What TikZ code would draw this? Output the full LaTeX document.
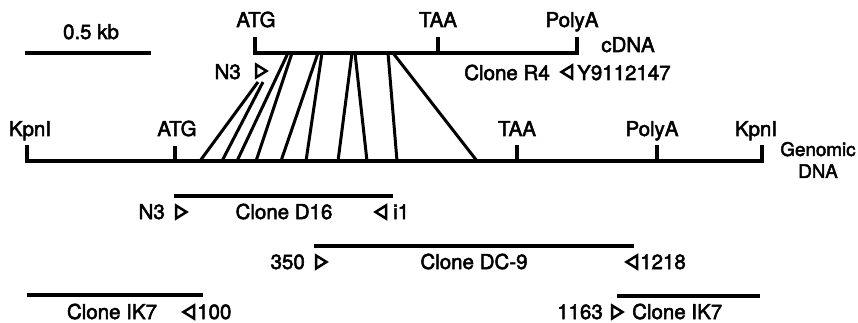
\documentclass[tikz,border=0pt]{standalone}
\usepackage{fontspec}
\setmainfont{TeX Gyre Heros}[BoldFont={TeX Gyre Heros}, BoldFeatures={FakeBold=2.5}]
\begin{document}
\begin{tikzpicture}[x=1pt,y=-1pt,
  every node/.style={inner sep=0pt, font=\fontsize{20.5}{24}\selectfont\bfseries},
  dna/.style={line width=3.8pt, line cap=butt},
  link/.style={line width=3pt, line cap=butt},
  lbl/.style={anchor=base},
  lblL/.style={anchor=base west},
  lblR/.style={anchor=base east},
  smalllbl/.style={anchor=base, font=\fontsize{18.8}{22}\selectfont\bfseries},
  rtri/.pic={\draw[line width=2.5pt, line join=miter] (-5,-6.5) -- (5.5,0) -- (-5,6.5) -- cycle;},
  ltri/.pic={\draw[line width=2.5pt, line join=miter] (5,-6.5) -- (-5.5,0) -- (5,6.5) -- cycle;}
]
\useasboundingbox (0,0) rectangle (858,323);

% scale bar
\coordinate (sb1) at (25,53); \coordinate (sb2) at (151,53);
\draw[dna] (sb1) -- (sb2);
\node[lbl] (sbl) at (91,39) {0.5 kb};

% cDNA
\coordinate (c0) at (255,53); \coordinate (c1) at (577,53);
\coordinate (cA) at (255,37); \coordinate (cT0) at (438,53); \coordinate (cT) at (438,37);
\coordinate (cP) at (577,37);
\draw[dna, line join=miter] (cA) -- (c0) -- (c1) -- (cP);
\draw[dna] (cT0) -- (cT);
\node[lbl] (catg) at (256,27) {ATG};
\node[lbl] (ctaa) at (438,27) {TAA};
\node[lbl] (cpoly) at (572,27) {PolyA};
\node[lbl] (cdna) at (628,52) {cDNA};
\node[lbl] (r4) at (507,80) {Clone R4};
\pic (r4t) at (567,72) {ltri};
\node[lblL] (y91) at (577,80) {Y9112147};
\node[lblR] (n3a) at (241,79) {N3};
\pic (n3at) at (261,71) {rtri};

% genomic
\coordinate (g0) at (27,161); \coordinate (g1) at (762,161);
\coordinate (gK1) at (27,145); \coordinate (gK2) at (762,145);
\coordinate (gA0) at (175,161); \coordinate (gA) at (175,146);
\coordinate (gT0) at (517,161); \coordinate (gT) at (517,145);
\coordinate (gP0) at (657,161); \coordinate (gP) at (657,145);
\draw[dna, line join=miter] (gK1) -- (g0) -- (g1) -- (gK2);
\draw[dna] (gA0) -- (gA);
\draw[dna] (gT0) -- (gT);
\draw[dna] (gP0) -- (gP);
\node[lbl] (gkl) at (30,136) {KpnI};
\node[lbl] (gatg) at (177,136) {ATG};
\node[lbl] (gtaa) at (517,136) {TAA};
\node[lbl] (gpoly) at (652,136) {PolyA};
\node[lbl] (gkr) at (756,136) {KpnI};
\node[smalllbl] (gen) at (818,156) {Genomic};
\node[smalllbl] (gdna) at (818,178) {DNA};

% exon links
\coordinate (t1) at (258,82);  \coordinate (b1) at (200,161);
\coordinate (t2) at (263,82);  \coordinate (b2) at (222,161);
\coordinate (t3) at (288,53);  \coordinate (b3) at (237,161);
\coordinate (t4) at (292,53);  \coordinate (b4) at (256,161);
\coordinate (t5) at (318,53);  \coordinate (b5) at (281,161);
\coordinate (t6) at (322,53);  \coordinate (b6) at (306,161);
\coordinate (t7) at (352,53);  \coordinate (b7) at (338,161);
\coordinate (t8) at (355,53);  \coordinate (b8) at (367,161);
\coordinate (t9) at (388,53);  \coordinate (b9) at (397,161);
\coordinate (t10) at (393,53); \coordinate (b10) at (477,161);
\foreach \i in {1,...,10} {\draw[link] (t\i) -- (b\i);}

% Clone D16
\coordinate (d1) at (174,196); \coordinate (d2) at (393,196);
\draw[dna] (d1) -- (d2);
\node[lblR] (dn3) at (165,219) {N3};
\pic (dt1) at (181,212) {rtri};
\node[lbl] (dl) at (284,219) {Clone D16};
\pic (dt2) at (381,212) {ltri};
\node[lblL] (di1) at (393,219) {i1};

% Clone DC-9
\coordinate (e1) at (314,246); \coordinate (e2) at (634,246);
\draw[dna] (e1) -- (e2);
\node[lblR] (e350) at (305,269) {350};
\pic (et1) at (321,262) {rtri};
\node[lbl] (el) at (474,269) {Clone DC-9};
\pic (et2) at (632,262) {ltri};
\node[lblL] (e1218) at (640,269) {1218};

% Clone IK7 left
\coordinate (k1) at (27,295); \coordinate (k2) at (203,295);
\draw[dna] (k1) -- (k2);
\node[lbl] (kl) at (112,319) {Clone IK7};
\pic (kt1) at (189,312) {ltri};
\node[lblL] (k100) at (197,319) {100};

% Clone IK7 right
\coordinate (m1) at (617,296); \coordinate (m2) at (760,296);
\draw[dna] (m1) -- (m2);
\node[lblR] (m1163) at (603,319) {1163};
\pic (mt1) at (617,312) {rtri};
\node[lblL] (ml) at (632,319) {Clone IK7};
\end{tikzpicture}
\end{document}
